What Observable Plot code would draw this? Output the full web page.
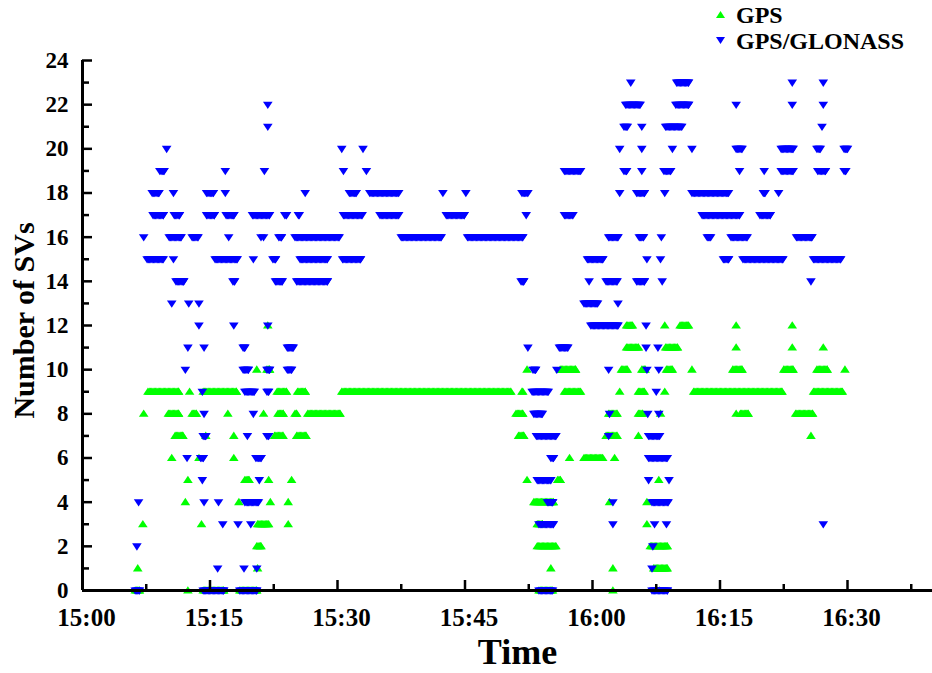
<!DOCTYPE html>
<html><head><meta charset="utf-8">
<script src="https://cdn.jsdelivr.net/npm/d3@7"></script>
<script src="https://cdn.jsdelivr.net/npm/@observablehq/plot@0.6"></script>
<style>
body{margin:0;background:#fff;}
#wrap{position:relative;width:932px;height:673px;font-family:"Liberation Serif","Times New Roman",serif;font-weight:bold;}
.leg{position:absolute;left:716px;font-size:24px;line-height:24px;display:flex;align-items:center;color:#000;}
.leg svg{margin-right:10px;}
</style></head><body><div id="wrap"></div>
<script>
// Series names and colours
const seriesNames = ["GPS", "GPS/GLONASS"];
const seriesColors = ["#00ff00", "#0000ff"];
// Time axis: minutes after 15:00
const xTickValues = [0, 15, 30, 45, 60, 75, 90];
const xTickLabels = ["15:00", "15:15", "15:30", "15:45", "16:00", "16:15", "16:30"];
const xMinorTicks = [7.5, 22.5, 37.5, 52.5, 67.5, 82.5, 97.5];
const yTickValues = [0, 2, 4, 6, 8, 10, 12, 14, 16, 18, 20, 22, 24];
const yMinorTicks = [1, 3, 5, 7, 9, 11, 13, 15, 17, 19, 21, 23];
const epochStep = 0.15; // minutes between recorded epochs

// Constant-value runs: [start minute, end minute, number of SVs]
const gpsRuns = [
  [6.2,6.7,0],[12.4,12.4,0],[14.2,16.6,0],[18.5,20.5,0],[53.7,55.3,0],[62.4,62.4,0],[67.9,67.9,0],
  [6.5,6.5,1],[20.6,20.6,1],[55.1,55.1,1],[62.4,62.4,1],[67.2,68.8,1],
  [20.5,21.0,2],[53.5,55.7,2],[66.8,68.8,2],
  [7.1,7.1,3],[14.0,14.0,3],[20.6,21.9,3],[24.2,24.2,3],[53.5,54.1,3],[66.4,66.4,3],
  [12.1,12.1,4],[18.4,18.4,4],[22.1,22.1,4],[24.2,24.2,4],[53.1,55.4,4],[62.0,62.0,4],[66.4,66.4,4],
  [12.4,12.4,5],[19.1,19.6,5],[21.9,21.9,5],[24.6,24.6,5],[52.3,52.3,5],[55.9,56.2,5],[67.8,67.8,5],
  [10.5,10.5,6],[13.7,13.7,6],[17.8,17.8,6],[57.3,57.3,6],[59.0,61.2,6],[62.6,62.6,6],
  [10.9,11.8,7],[14.5,14.5,7],[17.8,17.8,7],[22.6,23.6,7],[25.2,26.3,7],[51.3,51.9,7],[61.6,62.9,7],[65.4,65.4,7],[85.7,85.7,7],
  [7.2,7.2,8],[10.1,11.3,8],[12.9,13.4,8],[17.1,17.1,8],[21.3,21.3,8],[23.0,23.6,8],[25.0,25.2,8],[26.5,30.3,8],[51.0,51.8,8],[61.9,62.9,8],[65.4,65.9,8],[68.0,68.0,8],[76.9,76.9,8],[77.4,78.3,8],[83.9,85.9,8],
  [7.7,11.3,9],[12.6,12.6,9],[14.2,18.1,9],[22.9,24.0,9],[25.3,26.2,9],[30.5,50.4,9],[51.7,51.8,9],[56.7,58.6,9],[63.2,63.2,9],[65.4,66.1,9],[68.5,68.5,9],[71.9,82.3,9],[86.0,89.4,9],
  [20.5,20.5,10],[21.7,22.0,10],[52.3,52.3,10],[56.2,58.0,10],[63.4,64.1,10],[65.8,66.2,10],[68.7,69.4,10],[71.7,71.7,10],[76.5,77.6,10],[82.5,83.6,10],[86.4,87.6,10],[89.7,89.7,10],
  [64.0,65.4,11],[68.6,70.0,11],[76.9,76.9,11],[83.5,83.5,11],[87.15,87.15,11],
  [21.8,21.8,12],[64.0,64.7,12],[68.5,68.5,12],[70.3,71.3,12],[76.9,76.9,12],[83.5,83.5,12]
];
const glonassRuns = [
  [6.2,6.7,0],[14.2,16.6,0],[18.5,20.5,0],[53.7,55.3,0],[67.0,68.8,0],
  [15.9,15.9,1],[19.0,19.0,1],[20.5,20.5,1],[67.0,67.0,1],
  [6.4,6.4,2],[67.1,67.1,2],
  [16.5,16.5,3],[18.3,18.3,3],[19.8,19.8,3],[53.7,55.4,3],[62.4,62.4,3],[67.3,67.3,3],[68.7,68.7,3],[87.15,87.15,3],
  [6.6,6.6,4],[14.3,14.3,4],[16.0,16.0,4],[19.1,20.7,4],[54.7,55.3,4],[62.4,62.4,4],[67.0,68.9,4],
  [14.1,14.1,5],[20.8,20.8,5],[53.5,55.1,5],[66.6,66.6,5],[69.0,69.0,5],
  [12.3,12.3,6],[13.9,14.2,6],[20.4,21.0,6],[55.1,55.4,6],[66.6,68.8,6],
  [14.2,14.5,7],[19.4,19.4,7],[21.7,21.9,7],[53.4,55.7,7],[61.9,61.9,7],[66.6,67.9,7],
  [14.3,14.3,8],[20.1,20.1,8],[53.1,54.1,8],[62.0,62.0,8],[66.5,66.5,8],[67.8,67.8,8],
  [14.1,14.1,9],[19.1,20.2,9],[21.7,21.9,9],[52.9,54.8,9],[67.5,67.5,9],
  [12.1,12.1,10],[18.9,19.5,10],[21.7,22.0,10],[24.1,24.6,10],[53.0,53.3,10],[55.8,55.8,10],[61.9,61.9,10],[66.4,66.4,10],[67.8,67.8,10],
  [12.4,12.4,11],[14.3,14.3,11],[18.9,19.1,11],[24.1,24.8,11],[52.4,52.4,11],[56.1,57.1,11],[66.3,66.3,11],[67.7,67.7,11],
  [13.7,13.7,12],[17.8,17.8,12],[21.8,21.8,12],[59.8,63.0,12],[66.3,66.3,12],
  [10.5,10.5,13],[12.5,12.5,13],[13.7,13.7,13],[59.0,60.6,13],[63.0,63.0,13],
  [11.0,11.9,14],[17.7,17.9,14],[22.7,23.5,14],[25.2,28.8,14],[51.6,51.9,14],[59.6,59.6,14],[61.6,62.9,14],[65.2,66.1,14],[68.2,68.2,14],[85.7,85.7,14],
  [7.6,9.5,15],[10.7,10.7,15],[15.6,18.2,15],[20.1,20.1,15],[22.4,22.7,15],[25.6,28.8,15],[30.6,32.7,15],[59.4,61.2,15],[66.4,66.4,15],[68.0,68.0,15],[75.4,76.0,15],[77.7,82.4,15],[86.0,89.2,15],
  [7.2,7.2,16],[10.2,11.6,16],[12.9,13.6,16],[17.2,17.2,16],[21.0,21.0,16],[21.3,21.3,16],[23.1,23.4,16],[25.0,30.2,16],[37.5,42.2,16],[45.3,51.8,16],[61.9,63.0,16],[65.5,66.0,16],[68.1,68.1,16],[73.5,73.9,16],[76.3,78.2,16],[84.0,85.8,16],
  [8.3,9.5,17],[10.8,11.4,17],[14.6,15.5,17],[16.9,17.8,17],[20.0,22.0,17],[23.8,24.0,17],[25.4,25.5,17],[30.7,32.9,17],[35.0,37.2,17],[42.8,44.9,17],[52.2,52.2,17],[56.7,57.7,17],[72.9,77.3,17],[79.7,80.9,17],
  [8.2,9.0,18],[10.7,10.7,18],[14.6,15.4,18],[16.8,16.8,18],[26.2,26.2,18],[31.4,32.2,18],[33.8,37.2,18],[42.4,42.4,18],[45.1,45.1,18],[51.7,52.4,18],[63.2,63.2,18],[65.2,66.1,18],[68.5,68.5,18],[71.7,76.0,18],[80.1,80.3,18],[81.9,81.9,18],
  [9.1,9.6,19],[16.8,16.8,19],[21.4,21.4,19],[30.7,30.7,19],[33.4,33.4,19],[56.7,58.6,19],[63.7,64.0,19],[65.8,65.8,19],[68.4,69.2,19],[77.3,77.3,19],[80.2,80.2,19],[82.2,83.6,19],[86.5,87.4,19],[89.6,89.8,19],
  [9.9,9.9,20],[30.5,30.5,20],[33.0,33.0,20],[63.2,63.2,20],[65.8,65.8,20],[69.4,69.4,20],[71.7,71.7,20],[76.9,77.6,20],[82.2,83.6,20],[86.4,86.8,20],[89.6,90.0,20],
  [21.8,21.8,21],[63.7,64.1,21],[65.8,65.8,21],[68.6,70.5,21],[87.0,87.0,21],
  [21.8,21.8,22],[63.9,65.6,22],[69.8,71.3,22],[76.9,76.9,22],[83.5,83.5,22],[87.15,87.15,22],
  [64.5,64.5,23],[69.9,71.3,23],[83.5,83.5,23],[87.15,87.15,23]
];

function expandRuns(runs, series) {
  const out = [];
  for (const [a, b, v] of runs) {
    for (let t = a; t <= b + 1e-9; t += epochStep) out.push({t, v, series});
    if (b - a > 1e-9) out.push({t: b, v, series});
  }
  return out;
}
const gpsData = expandRuns(gpsRuns, seriesNames[0]);
const glonassData = expandRuns(glonassRuns, seriesNames[1]);

const triUp = {draw(c) { c.moveTo(0, -4.3); c.lineTo(4.8, 3.0); c.lineTo(-4.8, 3.0); c.closePath(); }};
const triDown = {draw(c) { c.moveTo(0, 4.3); c.lineTo(4.8, -3.0); c.lineTo(-4.8, -3.0); c.closePath(); }};

const W = 932, H = 673, mL = 82, mR = 0, mT = 60, mB = 83;
const plotW = W - mL - mR, plotH = H - mT - mB;

const chart = Plot.plot({
  width: W, height: H,
  marginLeft: mL, marginRight: mR, marginTop: mT, marginBottom: mB,
  x: {domain: [0, 100]},
  y: {domain: [0, 24]},
  style: {fontFamily: '"Liberation Serif", "Times New Roman", serif', fontWeight: "bold", background: "white", color: "black", overflow: "visible"},
  marks: [
    Plot.dot(gpsData, {x: "t", y: "v", symbol: triUp, r: 4, fill: seriesColors[0], stroke: "none"}),
    Plot.dot(glonassData, {x: "t", y: "v", symbol: triDown, r: 4, fill: seriesColors[1], stroke: "none"}),
    Plot.ruleX(xTickValues, {insetTop: plotH - 10, stroke: "black", strokeWidth: 2.5}),
    Plot.ruleX(xMinorTicks, {insetTop: plotH - 6, stroke: "black", strokeWidth: 2.5}),
    Plot.ruleY(yTickValues, {insetRight: plotW - 10, stroke: "black", strokeWidth: 2.5}),
    Plot.ruleY(yMinorTicks, {insetRight: plotW - 7, stroke: "black", strokeWidth: 2.5}),
    Plot.ruleX([0], {stroke: "black", strokeWidth: 3}),
    Plot.ruleY([0], {stroke: "black", strokeWidth: 3}),
    Plot.axisX({ticks: xTickValues, tickFormat: d => xTickLabels[xTickValues.indexOf(d)], tickSize: 0, tickPadding: 18, dx: 4, fontSize: 25, fontWeight: "bold", label: null}),
    Plot.axisY({ticks: yTickValues, tickSize: 0, tickPadding: 14, fontSize: 23, fontWeight: "bold", label: null}),
    Plot.text(["Time"], {frameAnchor: "bottom", lineAnchor: "middle", dx: 10, dy: 62, fontSize: 36, fontWeight: "bold"}),
    Plot.text(["Number of SVs"], {frameAnchor: "left", textAnchor: "middle", dx: -58, dy: -5, rotate: -90, fontSize: 30, fontWeight: "bold"})
  ]
});
const wrap = document.getElementById("wrap");
wrap.appendChild(chart);

function legendRow(top, name, color, up) {
  const d = document.createElement("div");
  d.className = "leg";
  d.style.top = top + "px";
  const pts = up ? "4.5,0 9,7 0,7" : "0,0 9,0 4.5,7";
  d.innerHTML = `<svg width="10" height="8"><polygon points="${pts}" fill="${color}"/></svg><span>${name}</span>`;
  wrap.appendChild(d);
}
legendRow(3, seriesNames[0], seriesColors[0], true);
legendRow(29, seriesNames[1], seriesColors[1], false);
</script>
</body></html>
